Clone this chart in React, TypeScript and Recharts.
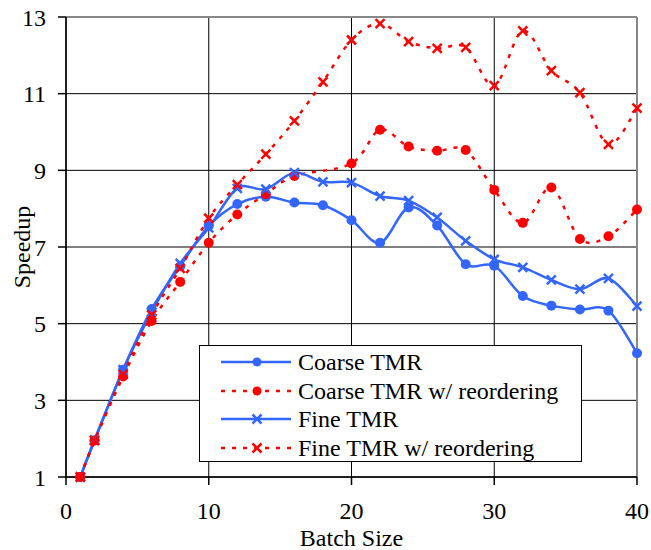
import React from 'react';
import {
  LineChart,
  Line,
  XAxis,
  YAxis,
  CartesianGrid,
  Legend,
  ReferenceLine,
} from 'recharts';

const batchSizes = [1, 2, 4, 6, 8, 10, 12, 14, 16, 18, 20, 22, 24, 26, 28, 30, 32, 34, 36, 38, 40];
const coarseTmr = [1.0, 1.95, 3.8, 5.38, 6.5, 7.55, 8.12, 8.31, 8.16, 8.09, 7.7, 7.11, 8.03, 7.56, 6.55, 6.51, 5.72, 5.47, 5.37, 5.34, 4.23];
const coarseTmrReorder = [1.0, 1.95, 3.62, 5.07, 6.09, 7.11, 7.85, 8.38, 8.85, null, 9.18, 10.06, 9.62, 9.51, 9.53, 8.49, 7.63, 8.55, 7.21, 7.28, 7.98];
const fineTmr = [1.0, 1.97, 3.8, 5.3, 6.57, 7.5, 8.53, 8.51, 8.94, 8.7, 8.68, 8.33, 8.21, 7.77, 7.16, 6.68, 6.47, 6.14, 5.9, 6.18, 5.46];
const fineTmrReorder = [1.0, 1.95, 3.68, 5.23, 6.44, 7.75, 8.63, 9.42, 10.29, 11.31, 12.4, 12.83, 12.36, 12.18, 12.21, 11.21, 12.64, 11.6, 11.03, 9.68, 10.62];

const xTicks = [0, 10, 20, 30, 40];
const yTicks = [1, 3, 5, 7, 9, 11, 13];

const data = batchSizes.map((x, i) => ({
  x,
  coarse: coarseTmr[i],
  coarseReorder: coarseTmrReorder[i],
  fine: fineTmr[i],
  fineReorder: fineTmrReorder[i],
}));

const BLUE = '#3366FF';
const RED = '#FF0000';
const FONT = "'Liberation Serif', 'DejaVu Serif', serif";

// excel-style smoothed line (catmull-rom through the points)
const smoothCurve = (context: any) => {
  let pts: number[][] = [];
  return {
    areaStart() {},
    areaEnd() {},
    lineStart() {
      pts = [];
    },
    point(x: number, y: number) {
      pts.push([+x, +y]);
    },
    lineEnd() {
      if (!pts.length) return;
      context.moveTo(pts[0][0], pts[0][1]);
      for (let i = 0; i < pts.length - 1; i++) {
        const p0 = pts[i - 1] || pts[i];
        const p1 = pts[i];
        const p2 = pts[i + 1];
        const p3 = pts[i + 2] || p2;
        context.bezierCurveTo(
          p1[0] + (p2[0] - p0[0]) / 6,
          p1[1] + (p2[1] - p0[1]) / 6,
          p2[0] - (p3[0] - p1[0]) / 6,
          p2[1] - (p3[1] - p1[1]) / 6,
          p2[0],
          p2[1]
        );
      }
    },
  };
};

const circleDot = (color: string) => (props: any) => {
  const { cx, cy, index } = props;
  if (cx == null || cy == null || props.value == null) return <g key={`c-${index}`} />;
  return <circle key={`c-${index}`} cx={cx} cy={cy} r={5} fill={color} />;
};

const crossDot = (color: string) => (props: any) => {
  const { cx, cy, index } = props;
  if (cx == null || cy == null) return <g key={`x-${index}`} />;
  const s = 4.5;
  return (
    <path
      key={`x-${index}`}
      d={`M${cx - s},${cy - s}L${cx + s},${cy + s}M${cx - s},${cy + s}L${cx + s},${cy - s}`}
      stroke={color}
      strokeWidth={2.5}
      fill="none"
    />
  );
};

const legendItems = [
  { name: 'Coarse TMR', color: BLUE, dashed: false, marker: 'circle' },
  { name: 'Coarse TMR w/ reordering', color: RED, dashed: true, marker: 'circle' },
  { name: 'Fine TMR', color: BLUE, dashed: false, marker: 'cross' },
  { name: 'Fine TMR w/ reordering', color: RED, dashed: true, marker: 'cross' },
];

function LegendBox() {
  return (
    <div
      style={{
        width: 383,
        height: 117,
        boxSizing: 'border-box',
        border: '1px solid #000',
        background: '#fff',
        padding: '2px 0 0 0',
        fontFamily: FONT,
        fontSize: 24,
        color: '#000',
      }}
    >
      {legendItems.map((item) => (
        <div key={item.name} style={{ display: 'flex', alignItems: 'center', height: 28.5 }}>
          <svg width={98} height={20} style={{ flex: 'none' }}>
            <line
              x1={21}
              y1={10}
              x2={91}
              y2={10}
              stroke={item.color}
              strokeWidth={2.5}
              strokeDasharray={item.dashed ? '4 7' : undefined}
            />
            {item.marker === 'circle' ? (
              <circle cx={57} cy={10} r={4.5} fill={item.color} />
            ) : (
              <path d="M52.5,5.5L61.5,14.5M52.5,14.5L61.5,5.5" stroke={item.color} strokeWidth={2.5} />
            )}
          </svg>
          <span style={{ whiteSpace: 'nowrap', lineHeight: '28px' }}>{item.name}</span>
        </div>
      ))}
    </div>
  );
}

export default function App() {
  const tick = { fill: '#000', fontSize: 24, fontFamily: FONT };
  return (
    <div style={{ position: 'absolute', left: 0, top: 0, background: '#fff', fontFamily: FONT }}>
      <LineChart
        width={651}
        height={550}
        data={data}
        margin={{ top: 17, right: 14, bottom: 0, left: 0 }}
        style={{ fontFamily: FONT }}
      >
        <CartesianGrid stroke="#000" strokeWidth={1} />
        <XAxis
          dataKey="x"
          type="number"
          domain={[0, 40]}
          ticks={xTicks}
          height={73}
          tick={tick}
          tickSize={8}
          tickMargin={17}
          stroke="#000"
          strokeWidth={1.5}
          label={{ value: 'Batch Size', position: 'insideBottom', offset: 4, fill: '#000', fontSize: 24, fontFamily: FONT }}
        />
        <YAxis
          type="number"
          domain={[1, 13]}
          ticks={yTicks}
          width={66}
          tick={tick}
          tickSize={8}
          tickMargin={12}
          stroke="#000"
          strokeWidth={1.5}
          label={{ value: 'Speedup', angle: -90, position: 'center', dx: -12, fill: '#000', fontSize: 24, fontFamily: FONT }}
        />
        <ReferenceLine y={13} stroke="#888" strokeWidth={2} />
        <ReferenceLine x={40} stroke="#888" strokeWidth={2} />
        <Line
          dataKey="coarse"
          type={smoothCurve as any}
          stroke={BLUE}
          strokeWidth={2.5}
          dot={circleDot(BLUE)}
          activeDot={false}
          isAnimationActive={false}
        />
        <Line
          dataKey="coarseReorder"
          type={smoothCurve as any}
          stroke={RED}
          strokeWidth={2.5}
          strokeDasharray="4 7"
          connectNulls
          dot={circleDot(RED)}
          activeDot={false}
          isAnimationActive={false}
        />
        <Line
          dataKey="fine"
          type={smoothCurve as any}
          stroke={BLUE}
          strokeWidth={2.5}
          dot={crossDot(BLUE)}
          activeDot={false}
          isAnimationActive={false}
        />
        <Line
          dataKey="fineReorder"
          type={smoothCurve as any}
          stroke={RED}
          strokeWidth={2.5}
          strokeDasharray="4 7"
          dot={crossDot(RED)}
          activeDot={false}
          isAnimationActive={false}
        />
        <Legend
          layout="vertical"
          align="center"
          verticalAlign="middle"
          content={() => <LegendBox />}
          wrapperStyle={{ position: 'absolute', left: 199, top: 345, width: 383, height: 117 }}
        />
      </LineChart>
    </div>
  );
}
